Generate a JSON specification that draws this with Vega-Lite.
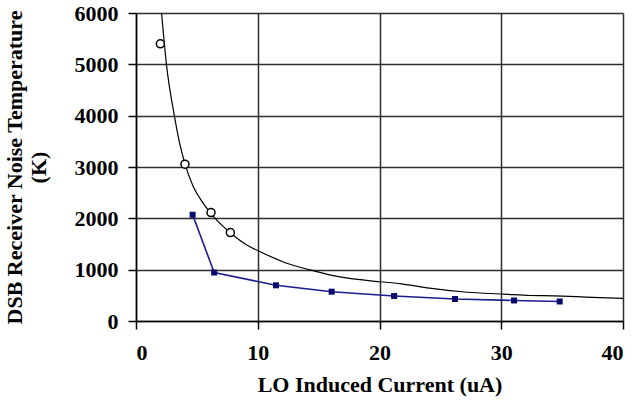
{
  "$schema": "https://vega.github.io/schema/vega-lite/v6.json",
  "width": 487,
  "height": 308,
  "autosize": "none",
  "padding": {"left": 136, "top": 13, "right": 12, "bottom": 79},
  "background": "white",
  "config": {
    "view": {"stroke": null},
    "font": "Liberation Serif",
    "axis": {
      "labelFont": "Liberation Serif",
      "titleFont": "Liberation Serif",
      "labelFontWeight": "bold",
      "titleFontWeight": "bold",
      "labelFontSize": 22,
      "titleFontSize": 22,
      "labelColor": "black",
      "titleColor": "black",
      "domainColor": "black",
      "domainWidth": 1.5,
      "tickColor": "black",
      "tickWidth": 1.5,
      "tickSize": 8,
      "gridColor": "#2e2e2e",
      "gridWidth": 1.5,
      "gridOpacity": 1
    }
  },
  "datasets": {
    "fit": [
      {"x": 2.1, "y": 6000},
      {"x": 2.5, "y": 5000},
      {"x": 3.15, "y": 4000},
      {"x": 3.55, "y": 3500},
      {"x": 4.0, "y": 3080},
      {"x": 4.7, "y": 2620},
      {"x": 5.5, "y": 2300},
      {"x": 6.5, "y": 2000},
      {"x": 7.75, "y": 1720},
      {"x": 9.1, "y": 1480},
      {"x": 10.2, "y": 1350},
      {"x": 12.0, "y": 1160},
      {"x": 14.3, "y": 995},
      {"x": 15.9, "y": 900},
      {"x": 18.4, "y": 805},
      {"x": 20.0, "y": 765},
      {"x": 21.8, "y": 725},
      {"x": 24.1, "y": 640},
      {"x": 27.2, "y": 560},
      {"x": 30.2, "y": 525},
      {"x": 32.4, "y": 497},
      {"x": 34.3, "y": 490},
      {"x": 37.5, "y": 460},
      {"x": 40.0, "y": 442}
    ],
    "circles": [
      {"x": 2.0, "y": 5400},
      {"x": 4.02, "y": 3055},
      {"x": 6.16, "y": 2112},
      {"x": 7.75, "y": 1722}
    ],
    "squares": [
      {"x": 4.65, "y": 2070},
      {"x": 6.42, "y": 945},
      {"x": 11.5, "y": 695},
      {"x": 16.07, "y": 571},
      {"x": 21.2, "y": 487},
      {"x": 26.2, "y": 429},
      {"x": 31.05, "y": 400},
      {"x": 34.8, "y": 380}
    ]
  },
  "layer": [
    {
      "data": {"name": "fit"},
      "mark": {"type": "line", "color": "black", "strokeWidth": 1.2, "interpolate": "monotone", "clip": true},
      "encoding": {
        "x": {
          "field": "x", "type": "quantitative",
          "scale": {"domain": [0, 40], "nice": false},
          "axis": {"values": [0, 10, 20, 30, 40], "title": "LO Induced Current (uA)", "labelPadding": 13, "titlePadding": 11}
        },
        "y": {
          "field": "y", "type": "quantitative",
          "scale": {"domain": [0, 6000], "nice": false},
          "axis": {"values": [0, 1000, 2000, 3000, 4000, 5000, 6000], "format": "d", "title": ["DSB Receiver Noise Temperature", "(K)"], "labelPadding": 10, "titlePadding": 24}
        }
      }
    },
    {
      "data": {"name": "circles"},
      "mark": {"type": "point", "shape": "circle", "filled": false, "fill": "white", "stroke": "black", "strokeWidth": 1.5, "size": 64, "opacity": 1},
      "encoding": {
        "x": {"field": "x", "type": "quantitative"},
        "y": {"field": "y", "type": "quantitative"}
      }
    },
    {
      "data": {"name": "squares"},
      "mark": {"type": "line", "color": "#1c1c8c", "strokeWidth": 1.6, "point": {"shape": "square", "filled": true, "size": 36, "color": "#0a0a6e"}},
      "encoding": {
        "x": {"field": "x", "type": "quantitative"},
        "y": {"field": "y", "type": "quantitative"}
      }
    }
  ]
}
